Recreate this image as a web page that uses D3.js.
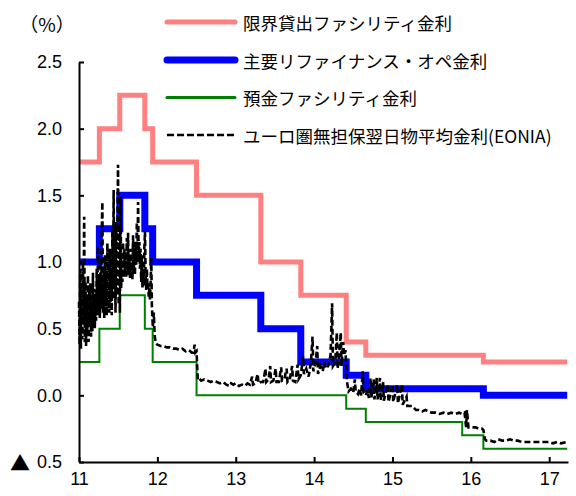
<!DOCTYPE html>
<html>
<head>
<meta charset="utf-8">
<script src="https://cdn.jsdelivr.net/npm/d3@7"></script>
<style>
  body { margin: 0; background: #fff; }
  svg { display: block; }
  .tick text { font-family: "Liberation Sans", Arial, sans-serif; font-size: 18px; fill: #000; }
  .legend text { font-family: "Noto Sans CJK JP", sans-serif; font-size: 17.5px; fill: #000; }
</style>
</head>
<body>
<div id="container"></div>
<script>
// policy rate change dates (fractional years) and the rate in force from each date
const stepDates = [11.00, 11.26, 11.52, 11.84, 11.94, 12.50, 13.32, 13.83, 14.41, 14.66, 15.89, 16.16, 17.23];
const marginalLending = [1.75, 2.00, 2.25, 2.00, 1.75, 1.50, 1.00, 0.75, 0.40, 0.30, 0.30, 0.25, 0.25];
const mainRefi = [1.00, 1.25, 1.50, 1.25, 1.00, 0.75, 0.50, 0.25, 0.15, 0.05, 0.05, 0.00, 0.00];
const depositFacility = [0.25, 0.50, 0.75, 0.50, 0.25, 0.00, 0.00, 0.00, -0.10, -0.20, -0.30, -0.40, -0.40];

// EONIA: [year, %]
const eonia = [
  [11.000,0.70],[11.008,0.38],[11.016,0.95],[11.024,0.35],[11.032,0.80],[11.040,0.42],[11.050,1.00],[11.058,0.55],
  [11.066,1.34],[11.074,0.40],[11.082,0.85],[11.090,0.37],[11.098,0.72],[11.106,0.45],[11.114,0.90],[11.122,0.40],
  [11.130,0.78],[11.138,0.52],[11.146,0.84],[11.154,0.44],[11.162,0.70],[11.170,0.48],[11.178,0.92],[11.186,0.55],
  [11.194,0.80],[11.202,0.50],[11.210,0.75],[11.218,0.56],[11.226,0.95],[11.234,0.60],[11.242,1.12],[11.250,0.62],
  [11.258,0.88],[11.266,0.58],[11.274,1.00],[11.282,0.65],[11.290,1.20],[11.298,1.45],[11.306,0.62],[11.314,0.95],
  [11.322,0.58],[11.330,1.05],[11.338,0.70],[11.346,0.92],[11.354,0.60],[11.362,1.14],[11.370,0.66],[11.378,1.00],
  [11.386,0.62],[11.394,1.10],[11.402,0.70],[11.410,0.95],[11.418,0.60],[11.426,1.25],[11.434,0.72],[11.442,1.54],
  [11.450,0.80],[11.458,1.10],[11.466,0.62],[11.474,1.30],[11.482,0.75],[11.490,1.20],[11.498,1.73],[11.506,0.68],
  [11.514,1.25],[11.522,0.62],[11.530,1.49],[11.538,0.80],[11.546,1.05],[11.554,0.85],[11.562,1.15],[11.570,0.88],
  [11.578,1.10],[11.586,0.90],[11.594,1.05],[11.602,0.88],[11.610,1.18],[11.618,0.90],[11.626,1.22],[11.634,0.92],
  [11.642,1.05],[11.650,0.88],[11.658,1.10],[11.666,0.90],[11.674,1.00],[11.682,0.87],[11.690,1.20],[11.698,0.92],
  [11.706,1.05],[11.714,0.90],[11.722,1.15],[11.730,0.98],[11.738,1.30],[11.746,1.02],[11.754,1.45],[11.762,1.00],
  [11.770,1.15],[11.778,0.95],[11.786,1.10],[11.794,0.85],[11.802,1.05],[11.810,0.80],[11.818,0.95],[11.826,0.82],
  [11.834,1.10],[11.842,1.23],[11.850,0.90],[11.858,0.79],[11.866,0.95],[11.874,0.80],[11.882,0.85],[11.890,0.74],
  [11.898,0.80],[11.906,0.72],[11.914,0.85],[11.922,1.03],[11.930,0.67],[11.942,0.51],[11.955,0.62],[11.965,0.45],
  [11.980,0.39],[12.00,0.38],[12.04,0.37],[12.08,0.37],[12.12,0.36],[12.16,0.36],[12.20,0.35],[12.24,0.35],
  [12.28,0.34],[12.32,0.35],[12.36,0.33],[12.40,0.34],[12.44,0.32],[12.46,0.32],[12.475,0.38],[12.485,0.32],
  [12.50,0.33],[12.515,0.12],[12.53,0.13],[12.56,0.11],[12.60,0.12],[12.64,0.11],[12.68,0.10],[12.72,0.11],
  [12.76,0.10],[12.80,0.09],[12.84,0.10],[12.88,0.08],[12.92,0.07],[12.94,0.09],[12.97,0.08],[13.00,0.09],
  [13.04,0.07],[13.08,0.08],[13.12,0.07],[13.15,0.09],[13.18,0.08],[13.21,0.14],[13.22,0.08],[13.25,0.09],
  [13.28,0.16],[13.29,0.09],[13.32,0.10],[13.35,0.10],[13.38,0.20],[13.39,0.10],[13.42,0.12],[13.44,0.22],
  [13.45,0.10],[13.48,0.11],[13.51,0.20],[13.52,0.10],[13.55,0.10],[13.58,0.21],[13.59,0.11],[13.62,0.12],
  [13.65,0.20],[13.66,0.10],[13.69,0.12],[13.72,0.22],[13.73,0.11],[13.76,0.10],[13.79,0.23],[13.80,0.12],
  [13.83,0.15],[13.86,0.29],[13.87,0.16],[13.90,0.20],[13.93,0.14],[13.96,0.25],[13.98,0.44],[13.99,0.18],
  [14.02,0.25],[14.04,0.37],[14.05,0.16],[14.08,0.22],[14.11,0.18],[14.13,0.25],[14.15,0.20],[14.18,0.22],
  [14.21,0.30],[14.23,0.69],[14.24,0.22],[14.27,0.25],[14.29,0.47],[14.30,0.20],[14.32,0.30],[14.34,0.47],
  [14.35,0.22],[14.37,0.40],[14.385,0.30],[14.40,0.34],[14.42,0.10],[14.44,0.03],[14.47,0.05],[14.50,0.02],
  [14.52,0.12],[14.53,0.03],[14.56,0.01],[14.58,0.05],[14.60,0.00],[14.62,0.18],[14.63,0.02],[14.66,0.00],
  [14.68,0.04],[14.70,-0.02],[14.72,0.13],[14.73,-0.02],[14.76,0.12],[14.77,-0.03],[14.80,0.13],[14.81,-0.03],
  [14.84,0.13],[14.85,-0.04],[14.88,0.10],[14.89,-0.04],[14.94,0.08],[14.95,-0.05],[15.00,0.08],[15.01,-0.05],
  [15.06,0.08],[15.07,-0.06],[15.12,0.08],[15.13,-0.07],[15.18,-0.01],[15.19,-0.08],[15.25,-0.08],[15.30,-0.11],
  [15.34,-0.11],[15.38,-0.12],[15.42,-0.11],[15.46,-0.12],[15.50,-0.13],[15.55,-0.13],[15.60,-0.14],[15.65,-0.13],
  [15.70,-0.14],[15.75,-0.13],[15.80,-0.14],[15.85,-0.13],[15.89,-0.14],[15.92,-0.13],[15.94,-0.24],[15.95,-0.11],
  [15.97,-0.24],[16.00,-0.24],[16.03,-0.24],[16.06,-0.24],[16.10,-0.25],[16.14,-0.25],[16.16,-0.26],[16.18,-0.33],
  [16.20,-0.34],[16.25,-0.34],[16.30,-0.35],[16.35,-0.33],[16.40,-0.34],[16.45,-0.34],[16.50,-0.33],[16.55,-0.34],
  [16.60,-0.34],[16.65,-0.35],[16.70,-0.35],[16.75,-0.35],[16.80,-0.35],[16.85,-0.35],[16.90,-0.35],[16.95,-0.35],
  [17.00,-0.35],[17.05,-0.36],[17.10,-0.35],[17.15,-0.36],[17.22,-0.35]
];

const yTicks = [-0.5, 0, 0.5, 1.0, 1.5, 2.0, 2.5];
const xTicks = [11, 12, 13, 14, 15, 16, 17];

const legendLabels = ["限界貸出ファシリティ金利", "主要リファイナンス・オペ金利", "預金ファシリティ金利", "ユーロ圏無担保翌日物平均金利(EONIA)"];

const width = 576, height = 496;

const svg = d3.select("#container").append("svg")
  .attr("width", width)
  .attr("height", height);

const x = d3.scaleLinear().domain([11, 17.24]).range([79, 568]);
const y = d3.scaleLinear().domain([-0.5, 2.5]).range([462, 62]);

const series = [
  {name: legendLabels[0], values: marginalLending, color: "#ff8080", w: 5},
  {name: legendLabels[1], values: mainRefi, color: "#0000ff", w: 7},
  {name: legendLabels[2], values: depositFacility, color: "#008000", w: 2}
];

const stepLine = d3.line()
  .x(d => x(d[0]))
  .y(d => y(d[1]))
  .curve(d3.curveStepAfter);

series.forEach(s => {
  svg.append("path")
    .datum(stepDates.map((t, i) => [t, s.values[i]]))
    .attr("d", stepLine)
    .attr("fill", "none")
    .attr("stroke", s.color)
    .attr("stroke-width", s.w);
});

const eoniaLine = d3.line()
  .x(d => x(d[0]))
  .y(d => y(d[1]));

svg.append("path")
  .datum(eonia)
  .attr("d", eoniaLine)
  .attr("fill", "none")
  .attr("stroke", "#000")
  .attr("stroke-width", 2.6)
  .attr("stroke-dasharray", "6,3");

// axes
const yAxis = svg.append("g")
  .attr("transform", `translate(${x(11)},0)`)
  .call(d3.axisLeft(y)
    .tickValues(yTicks)
    .tickSizeInner(-5)
    .tickSizeOuter(0)
    .tickPadding(17)
    .tickFormat(d => d3.format(".1f")(Math.abs(d))));

const xAxis = svg.append("g")
  .attr("transform", `translate(0,${y(-0.5)})`)
  .call(d3.axisBottom(x)
    .tickValues(xTicks)
    .tickSizeInner(-5)
    .tickSizeOuter(0)
    .tickPadding(10)
    .tickFormat(d3.format("d")));

[yAxis, xAxis].forEach(a => {
  a.select(".domain").attr("stroke", "#000").attr("stroke-width", 2);
  a.selectAll(".tick line").attr("stroke", "#000").attr("stroke-width", 2);
});

// negative sign shown as a triangle, Japanese style
svg.append("text")
  .attr("x", 20)
  .attr("y", y(-0.5))
  .attr("text-anchor", "middle")
  .attr("dominant-baseline", "central")
  .style("font-family", "'Noto Sans CJK JP', sans-serif")
  .style("font-size", "20px")
  .text("▲");

svg.append("text")
  .attr("x", 47)
  .attr("y", 23)
  .attr("text-anchor", "middle")
  .attr("dominant-baseline", "central")
  .style("font-family", "'Noto Sans CJK JP', sans-serif")
  .style("font-size", "19px")
  .text("（%）");

// legend
const legend = svg.append("g").attr("class", "legend");
const rowY = [22, 60, 97.5, 135];
const legendStyles = [
  {color: "#ff8080", w: 5, dash: null},
  {color: "#0000ff", w: 7, dash: null},
  {color: "#008000", w: 3, dash: null},
  {color: "#000", w: 2.5, dash: "7,3"}
];

legendLabels.forEach((label, i) => {
  legend.append("line")
    .attr("x1", 167).attr("x2", 235)
    .attr("y1", rowY[i]).attr("y2", rowY[i])
    .attr("stroke", legendStyles[i].color)
    .attr("stroke-width", legendStyles[i].w)
    .attr("stroke-linecap", legendStyles[i].dash ? "butt" : "round")
    .attr("stroke-dasharray", legendStyles[i].dash);
  legend.append("text")
    .attr("x", 243)
    .attr("y", rowY[i])
    .attr("dominant-baseline", "central")
    .text(label);
});
</script>
</body>
</html>
